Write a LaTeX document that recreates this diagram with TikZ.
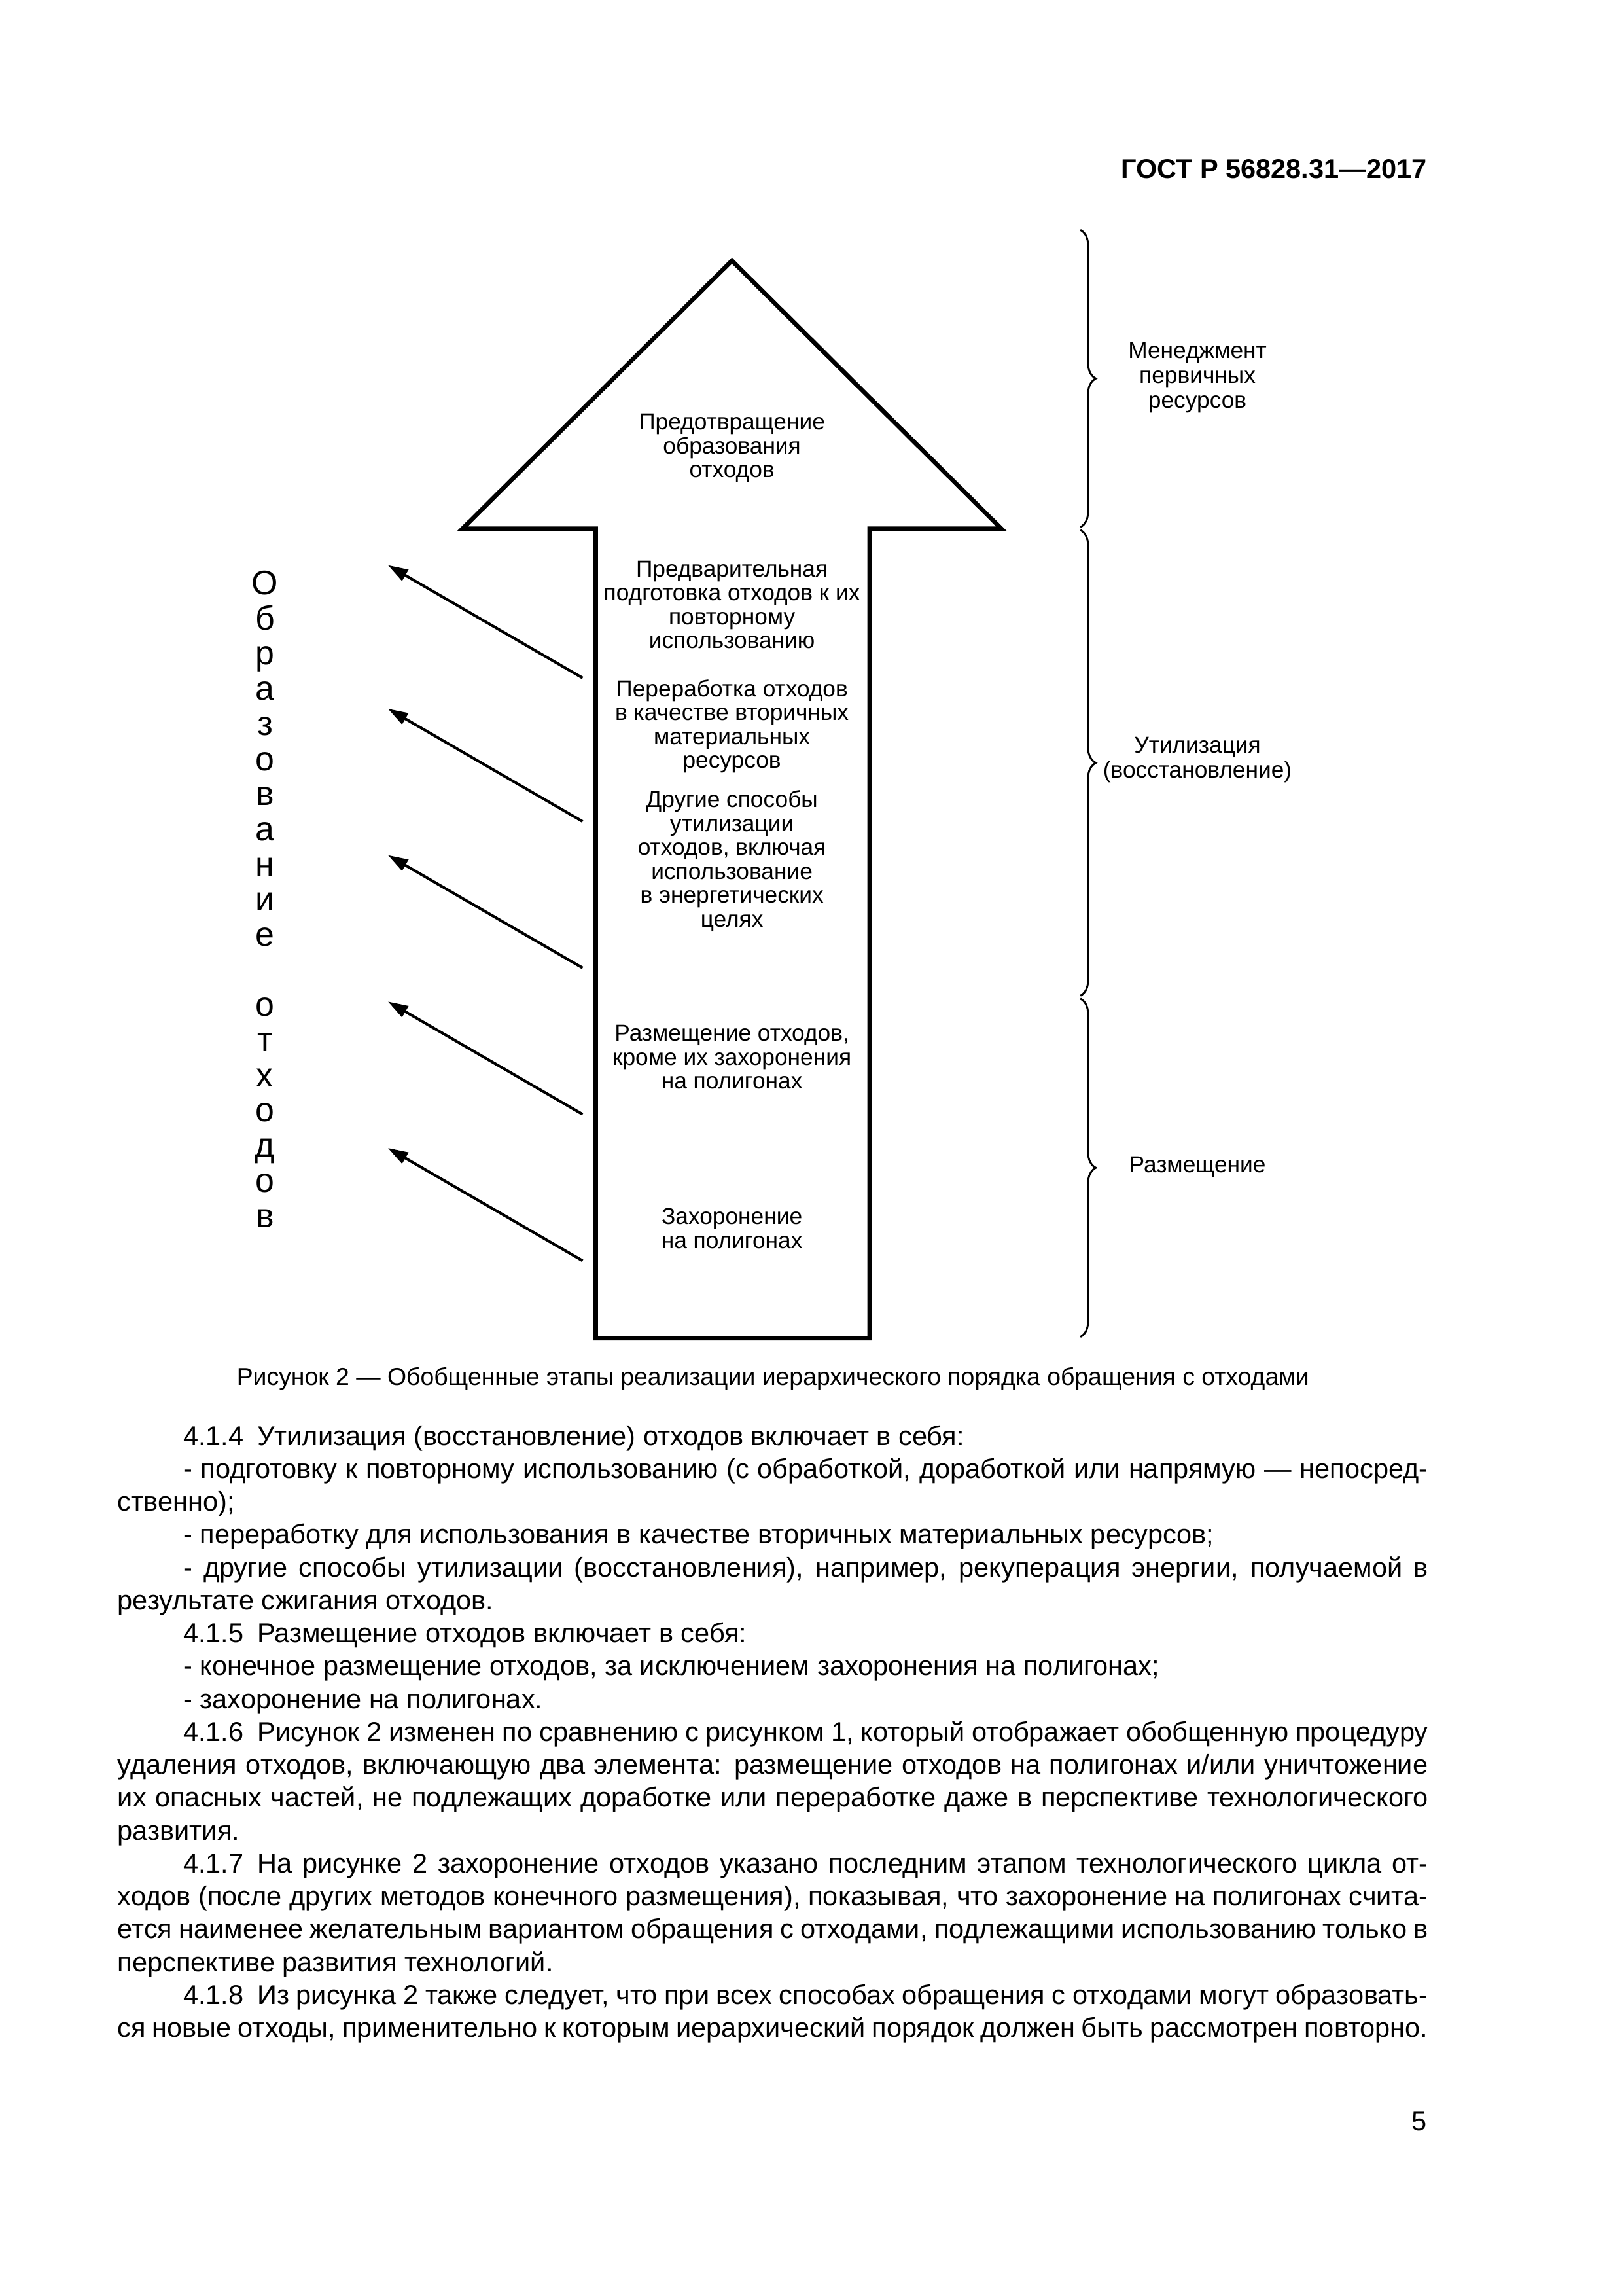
\documentclass[tikz,border=0pt]{standalone}
\usepackage{fontspec}
\setmainfont{Liberation Sans}
\usetikzlibrary{arrows.meta,decorations.pathreplacing}

\begin{document}
\begin{tikzpicture}[
  x=0.018936cm, y=-0.018936cm,
  stage/.style={align=center, inner sep=0pt, font=\fontsize{8.5}{8.8}\selectfont},
  grp/.style={align=center, inner sep=0pt, font=\fontsize{8.5}{9.2}\selectfont},
  page/.style={inner sep=0pt, font=\fontsize{10}{12.1}\selectfont},
  outline/.style={line width=1.6pt, line join=miter},
  arr/.style={-{Triangle[length=2.6mm,width=1.6mm]}, line width=1pt},
  brc/.style={decorate, decoration={brace, amplitude=2mm}, line width=0.7pt}
]
\useasboundingbox (0,0) rectangle (1109,1568);

% header
\node[page, anchor=base east, font=\bfseries\fontsize{10}{12}\selectfont] (gost) at (975,122) {ГОСТ Р 56828.31—2017};

% big arrow
\coordinate (tip) at (500,178);
\coordinate (hr) at (684,361);
\coordinate (sr) at (594,361);
\coordinate (br) at (594,914);
\coordinate (bl) at (407,914);
\coordinate (sl) at (407,361);
\coordinate (hl) at (316,361);
\draw[outline] (tip) -- (hr) -- (sr) -- (br) -- (bl) -- (sl) -- (hl) -- cycle;

\node[stage] (prev) at (500,306) {Предотвращение\\образования\\отходов};
\node[stage] (prep) at (500,413) {Предварительная\\подготовка отходов к их\\повторному\\использованию};
\node[stage] (recy) at (500,496) {Переработка отходов\\в качестве вторичных\\материальных\\ресурсов};
\node[stage] (othr) at (500,588) {Другие способы\\утилизации\\отходов, включая\\использование\\в энергетических\\целях};
\node[stage] (plac) at (500,722) {Размещение отходов,\\кроме их захоронения\\на полигонах};
\node[stage] (bury) at (500,839) {Захоронение\\на полигонах};

% waste generation
\node[align=center, inner sep=0pt, font=\fontsize{12.5}{12.93}\selectfont] (gen) at (181,614)
  {О\\б\\р\\а\\з\\о\\в\\а\\н\\и\\е\\\mbox{}\\о\\т\\х\\о\\д\\о\\в};
\foreach \i/\ys/\ye in {1/463/386, 2/561/484, 3/661/584, 4/761/684, 5/861/784}{
  \coordinate (s\i) at (398,\ys);
  \coordinate (t\i) at (265,\ye);
  \draw[arr] (s\i) -- (t\i);
}

% braces
\coordinate (b0) at (738,157);
\coordinate (b1) at (738,360);
\coordinate (b2) at (738,362);
\coordinate (b3) at (738,680);
\coordinate (b4) at (738,682);
\coordinate (b5) at (738,913);
\draw[brc] (b0) -- (b1);
\draw[brc] (b2) -- (b3);
\draw[brc] (b4) -- (b5);
\node[grp] (mgmt) at (818,258) {Менеджмент\\первичных\\ресурсов};
\node[grp] (util) at (818,519) {Утилизация\\(восстановление)};
\node[grp] (disp) at (818,797) {Размещение};

% caption and text
\node[page, anchor=base, font=\fontsize{9}{11}\selectfont] (cap) at (528,946) {Рисунок 2 — Обобщенные этапы реализации иерархического порядка обращения с отходами};
\node[page, anchor=base west] (text) at (80,987) {\parbox[t]{169.5mm}{%
\setlength{\parindent}{8.5mm}\hyphenpenalty=10000\tolerance=10000
4.1.4\enspace Утилизация (восстановление) отходов включает в себя:\par
- подготовку к повторному использованию (с обработкой, доработкой или напрямую — непосред-\linebreak ственно);\par
- переработку для использования в качестве вторичных материальных ресурсов;\par
- другие способы утилизации (восстановления), например, рекуперация энергии, получаемой в\linebreak результате сжигания отходов.\par
4.1.5\enspace Размещение отходов включает в себя:\par
- конечное размещение отходов, за исключением захоронения на полигонах;\par
- захоронение на полигонах.\par
4.1.6\enspace Рисунок 2 изменен по сравнению с рисунком 1, который отображает обобщенную процедуру\linebreak удаления отходов, включающую два элемента: размещение отходов на полигонах и/или уничтожение\linebreak их опасных частей, не подлежащих доработке или переработке даже в перспективе технологического\linebreak развития.\par
4.1.7\enspace На рисунке 2 захоронение отходов указано последним этапом технологического цикла от-\linebreak ходов (после других методов конечного размещения), показывая, что захоронение на полигонах счита-\linebreak ется наименее желательным вариантом обращения с отходами, подлежащими использованию только в\linebreak перспективе развития технологий.\par
4.1.8\enspace Из рисунка 2 также следует, что при всех способах обращения с отходами могут образовать-\linebreak ся новые отходы, применительно к которым иерархический порядок должен быть рассмотрен повторно.}};
\node[page, anchor=base east] (pgno) at (975,1455) {5};
\end{tikzpicture}
\end{document}
